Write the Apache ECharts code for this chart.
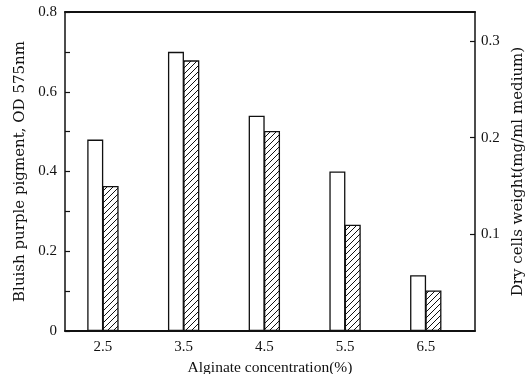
<!DOCTYPE html>
<html>
<head>
<meta charset="utf-8">
<script src="https://cdn.jsdelivr.net/npm/echarts@6/dist/echarts.min.js"></script>
<style>
  html, body { margin: 0; padding: 0; background: #fff; }
  #chart { width: 530px; height: 374px; }
</style>
</head>
<body>
<div id="chart"></div>
<script>
// Alginate concentration (%) on the x axis
const categories = ['2.5', '3.5', '4.5', '5.5', '6.5'];
// Bluish purple pigment, OD 575nm (left axis, open bars)
const pigment = [0.48, 0.70, 0.54, 0.40, 0.14];
// Dry cells weight, mg/ml medium (right axis, hatched bars)
const dryWeight = [0.150, 0.280, 0.207, 0.110, 0.042];
// Tick labels
const leftLabels = [0, 0.2, 0.4, 0.6, 0.8];
const leftTicks = [0, 0.1, 0.2, 0.3, 0.4, 0.5, 0.6, 0.7, 0.8];
const rightLabels = [0.1, 0.2, 0.3];

const FONT = '"Liberation Serif", "DejaVu Serif", serif';
const TITLE_FONT = '"DejaVu Serif", "Liberation Serif", serif';

// diagonal hatch tile for the dry weight bars
function hatchPattern() {
  const s = 6;
  const c = document.createElement('canvas');
  c.width = s; c.height = s;
  const g = c.getContext('2d');
  g.fillStyle = '#fff';
  g.fillRect(0, 0, s, s);
  g.strokeStyle = '#111';
  g.lineWidth = 1;
  g.beginPath();
  g.moveTo(0, s); g.lineTo(s, 0);
  g.moveTo(-s / 2, s / 2); g.lineTo(s / 2, -s / 2);
  g.moveTo(s / 2, s * 1.5); g.lineTo(s * 1.5, s / 2);
  g.stroke();
  return { image: c, repeat: 'repeat' };
}

const xs = categories.map(Number);
const xMin = 2.03, xMax = 7.11;

const chart = echarts.init(document.getElementById('chart'), null, { renderer: 'canvas' });
chart.setOption({
  animation: false,
  backgroundColor: '#fff',
  grid: { left: 65, right: 55, top: 12, bottom: 43, containLabel: false, outerBoundsMode: 'none' },
  xAxis: [{
    type: 'value',
    min: xMin, max: xMax,
    name: 'Alginate concentration(%)',
    nameLocation: 'middle',
    nameGap: 26,
    nameTextStyle: { fontFamily: FONT, fontSize: 15.5, color: '#111' },
    axisLine: { show: true, onZero: false, lineStyle: { color: '#111', width: 2 } },
    axisTick: { show: false },
    splitLine: { show: false },
    axisLabel: {
      customValues: xs,
      formatter: v => v.toFixed(1),
      fontFamily: FONT, fontSize: 15, color: '#111', margin: 9
    }
  }, {
    type: 'value',
    position: 'top',
    min: xMin, max: xMax,
    axisLine: { show: true, onZero: false, lineStyle: { color: '#111', width: 2 } },
    axisTick: { show: false },
    axisLabel: { show: false },
    splitLine: { show: false }
  }],
  yAxis: [{
    type: 'value',
    min: 0, max: 0.8, interval: 0.1,
    position: 'left',
    name: 'Bluish purple pigment, OD 575nm',
    nameLocation: 'middle',
    nameGap: 37,
    nameRotate: 90,
    nameTextStyle: { fontFamily: TITLE_FONT, fontSize: 15, color: '#111' },
    axisLine: { show: true, onZero: false, lineStyle: { color: '#111', width: 1.5 } },
    axisTick: { show: true, inside: true, length: 5, customValues: leftTicks, lineStyle: { color: '#111', width: 1.2 } },
    splitLine: { show: false },
    axisLabel: {
      customValues: leftLabels,
      formatter: v => (v === 0 ? '0' : v.toFixed(1)),
      fontFamily: FONT, fontSize: 15, color: '#111', margin: 8
    }
  }, {
    type: 'value',
    min: 0, max: 0.33, interval: 0.1,
    position: 'right',
    name: 'Dry cells weight(mg/ml medium)',
    nameLocation: 'middle',
    nameGap: 32,
    nameRotate: 90,
    nameTextStyle: { fontFamily: TITLE_FONT, fontSize: 15, color: '#111' },
    axisLine: { show: true, onZero: false, lineStyle: { color: '#111', width: 1.5 } },
    axisTick: { show: true, inside: true, length: 5, customValues: rightLabels, lineStyle: { color: '#111', width: 1.2 } },
    splitLine: { show: false },
    axisLabel: {
      customValues: rightLabels,
      formatter: v => v.toFixed(1),
      fontFamily: FONT, fontSize: 15, color: '#111', margin: 6
    }
  }],
  series: [{
    name: 'Pigment',
    type: 'bar',
    xAxisIndex: 0,
    yAxisIndex: 0,
    barWidth: 16,
    barGap: '-4%',
    data: xs.map((x, i) => [x, pigment[i]]),
    itemStyle: { color: '#fff', borderColor: '#111', borderWidth: 1.3 }
  }, {
    name: 'Dry cells weight',
    type: 'bar',
    xAxisIndex: 0,
    yAxisIndex: 1,
    barWidth: 16,
    barGap: '-4%',
    data: xs.map((x, i) => [x, dryWeight[i]]),
    itemStyle: { color: hatchPattern(), borderColor: '#111', borderWidth: 1.3 }
  }]
});
</script>
</body>
</html>
